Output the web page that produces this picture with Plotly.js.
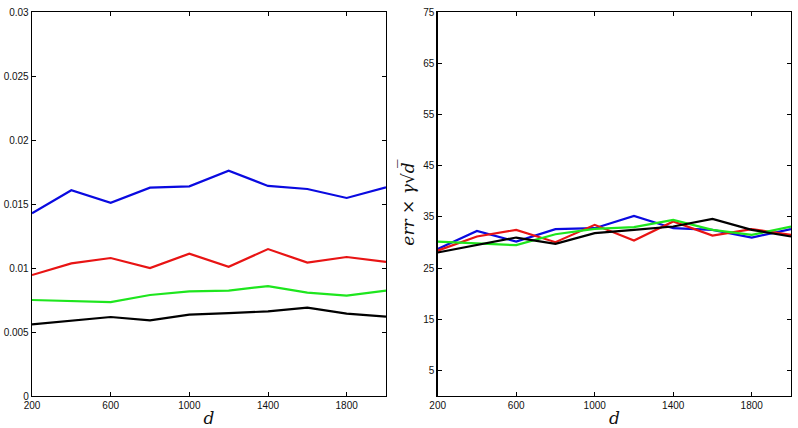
<!DOCTYPE html>
<html>
<head>
<meta charset="utf-8">
<script src="https://cdn.plot.ly/plotly-3.0.1.min.js"></script>
<style>html,body{margin:0;padding:0;background:#fff;}#chart{width:798px;height:428px;}</style>
</head>
<body>
<div id="chart"></div>
<script>
const d = [200, 400, 600, 800, 1000, 1200, 1400, 1600, 1800, 2000];

// Left panel: err
const errBlue  = [0.01427, 0.01607, 0.01510, 0.01628, 0.01638, 0.01760, 0.01641, 0.01617, 0.01547, 0.01630];
const errRed   = [0.00945, 0.01036, 0.01078, 0.01000, 0.01112, 0.01010, 0.01148, 0.01042, 0.01086, 0.01047];
const errGreen = [0.00750, 0.00742, 0.00734, 0.00789, 0.00818, 0.00823, 0.00859, 0.00807, 0.00784, 0.00823];
const errBlack = [0.00560, 0.00586, 0.00617, 0.00591, 0.00635, 0.00648, 0.00661, 0.00690, 0.00643, 0.00620];

// Right panel: err x gamma sqrt(d)
const scBlue  = [28.7, 32.25, 30.17, 32.58, 32.77, 35.18, 32.77, 32.45, 30.95, 32.58];
const scRed   = [28.4, 31.15, 32.45, 30.04, 33.43, 30.37, 34.08, 31.34, 32.58, 31.47];
const scGreen = [30.17, 29.78, 29.46, 31.60, 32.64, 32.97, 34.40, 32.45, 31.47, 33.10];
const scBlack = [28.02, 29.52, 30.95, 29.72, 31.80, 32.45, 33.10, 34.60, 32.45, 31.15];

const xTickVals = [200, 600, 1000, 1400, 1800];
const yLeftTickVals = [0, 0.005, 0.01, 0.015, 0.02, 0.025, 0.03];
const yLeftTickText = ['0', '0.005', '0.01', '0.015', '0.02', '0.025', '0.03'];
const yRightTickVals = [5, 15, 25, 35, 45, 55, 65, 75];

const colors = {blue: '#0a0ae0', red: '#e81414', green: '#1ee61e', black: '#000000'};

function tr(y, c, xa, ya) {
  return {x: d, y: y, xaxis: xa, yaxis: ya, type: 'scatter', mode: 'lines',
          line: {color: c, width: 2.2}, showlegend: false, hoverinfo: 'skip'};
}

const data = [
  tr(errBlue, colors.blue, 'x', 'y'),
  tr(errRed, colors.red, 'x', 'y'),
  tr(errGreen, colors.green, 'x', 'y'),
  tr(errBlack, colors.black, 'x', 'y'),
  tr(scBlue, colors.blue, 'x2', 'y2'),
  tr(scRed, colors.red, 'x2', 'y2'),
  tr(scGreen, colors.green, 'x2', 'y2'),
  tr(scBlack, colors.black, 'x2', 'y2')
];

const tickFont = {family: 'Liberation Sans, Arial, sans-serif', size: 10, color: '#111'};
const titleFont = {family: 'DejaVu Serif, Liberation Serif, serif', size: 17, color: '#111'};

function xax(domain, anchor) {
  return {domain: domain, anchor: anchor, range: [200, 2000], tickvals: xTickVals,
          ticks: 'inside', ticklen: 4, tickwidth: 1, tickcolor: '#000',
          showline: true, linecolor: '#000', linewidth: 1.3, mirror: 'ticks',
          showgrid: false, zeroline: false, tickfont: tickFont,
          title: {text: '<i>d</i>', font: titleFont, standoff: 2}};
}

const layout = {
  width: 798, height: 428,
  margin: {l: 32, r: 7, t: 12, b: 32},
  paper_bgcolor: '#fff', plot_bgcolor: '#fff',
  xaxis: xax([0, 0.4664], 'y'),
  yaxis: {domain: [0, 1], anchor: 'x', range: [0, 0.03], tickvals: yLeftTickVals, ticktext: yLeftTickText,
          ticks: 'inside', ticklen: 4, tickwidth: 1, tickcolor: '#000',
          showline: true, linecolor: '#000', linewidth: 1.3, mirror: 'ticks',
          showgrid: false, zeroline: false, tickfont: tickFont},
  xaxis2: xax([0.5345, 1], 'y2'),
  yaxis2: {domain: [0, 1], anchor: 'x2', range: [0, 75], tickvals: yRightTickVals,
          ticks: 'inside', ticklen: 4, tickwidth: 1, tickcolor: '#000',
          showline: true, linecolor: '#000', linewidth: 1.3, mirror: 'ticks',
          showgrid: false, zeroline: false, tickfont: tickFont,
          title: {text: '<i>err</i> × <i>γ</i>√<i>d̅</i>', font: titleFont, standoff: 4}},
  annotations: [
    {xref: 'paper', yref: 'paper', x: -0.052, y: 0.5, xanchor: 'center', yanchor: 'middle',
     text: '<i>err</i>', textangle: -90, showarrow: false, font: titleFont}
  ]
};

Plotly.newPlot('chart', data, layout, {displayModeBar: false, staticPlot: true});
</script>
</body>
</html>
